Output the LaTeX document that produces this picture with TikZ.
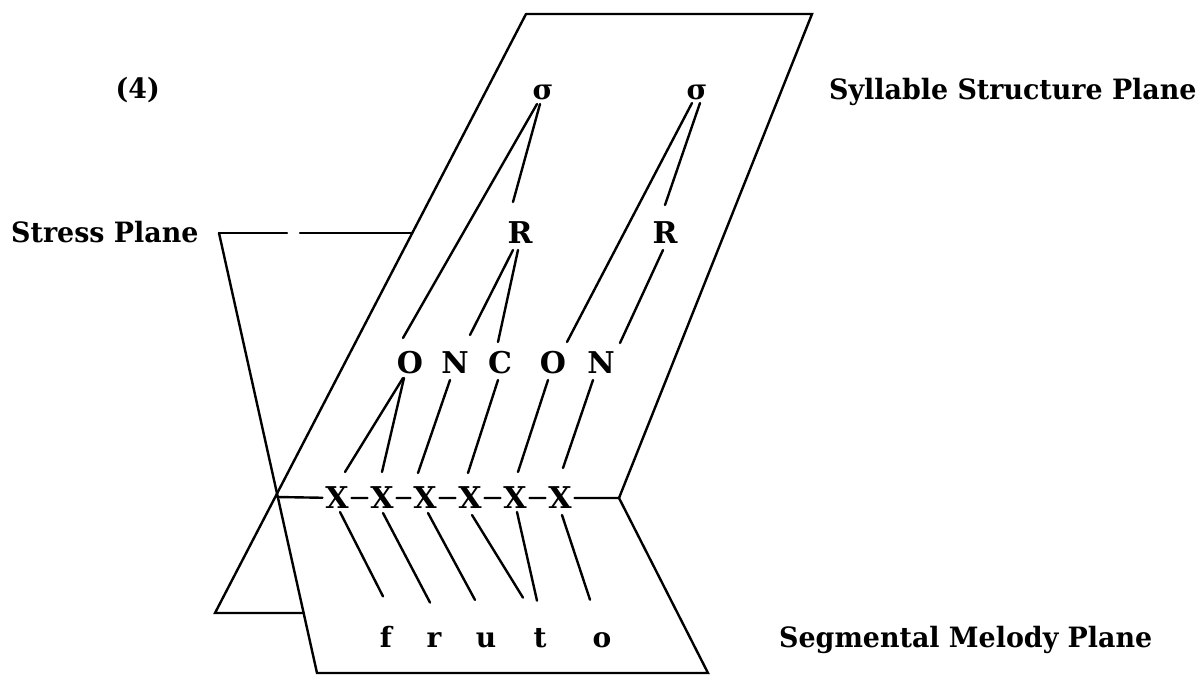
\documentclass[tikz,border=0pt]{standalone}
\usepackage{fontspec}
\setmainfont{DejaVu Serif}
\newfontfamily\lblfont{DejaVu Serif}[FakeStretch=0.96]
\usetikzlibrary{calc}
\begin{document}
\begin{tikzpicture}[x=1pt,y=-1pt,line width=2.4pt,line cap=round,
  capl/.style={inner sep=0pt,text height=21.9pt,text depth=0pt,font=\fontsize{30}{30}\selectfont\bfseries},
  xl/.style={capl,outer sep=3pt},
  lowl/.style={inner sep=0pt,anchor=base,font=\fontsize{28}{28}\selectfont\bfseries},
  sigl/.style={inner sep=0pt,text height=14.5pt,text depth=0pt,font=\fontsize{28}{28}\selectfont\bfseries},
  lab/.style={inner sep=0pt,anchor=base west,font=\lblfont\fontsize{28}{28}\selectfont\bfseries}]
\useasboundingbox (0,0) rectangle (1204,677);
% labels
\node[lab,anchor=base east] (num) at (161,98) {(4)};
\node[lab] (lsyl) at (828,99) {Syllable Structure Plane};
\node[lab] (lstr) at (10,242) {Stress Plane};
\node[lab] (lseg) at (778,647) {Segmental Melody Plane};
% plane outlines
\coordinate (sTL) at (526,14);
\coordinate (sTR) at (812,14);
\coordinate (cross) at (277,497);
\coordinate (rowR) at (619,498);
\coordinate (sBL) at (215,613);
\coordinate (stTL) at (219,233);
\coordinate (stTR) at (412,233);
\coordinate (g1) at (287,233);
\coordinate (g2) at (300,233);
\coordinate (stB) at (304,613);
\coordinate (segBL) at (317,673);
\coordinate (segBR) at (708,673);
\draw (sTL) -- (sTR) -- (rowR);
\draw (sTL) -- (sBL) -- (stB);
\draw (stTL) -- (g1);
\draw (g2) -- (stTR);
\draw (stTL) -- (segBL) -- (segBR) -- (rowR);
% syllable tier
\node[sigl] (s1) at (543,92) {σ};
\node[sigl] (s2) at (697,92) {σ};
\node[capl] (R1) at (520,233) {R};
\node[capl] (R2) at (665,233) {R};
\node[capl] (O1) at (410,363) {O};
\node[capl] (N1) at (455,363) {N};
\node[capl] (C) at (500,363) {C};
\node[capl] (O2) at (553,363) {O};
\node[capl] (N2) at (601,363) {N};
% skeleton
\node[xl] (X1) at (337,498) {X};
\node[xl] (X2) at (382,498) {X};
\node[xl] (X3) at (425,498) {X};
\node[xl] (X4) at (470,498) {X};
\node[xl] (X5) at (515,498) {X};
\node[xl] (X6) at (560,498) {X};
\draw (cross) -- (X1) -- (X2) -- (X3) -- (X4) -- (X5) -- (X6) -- (rowR);
% segments
\node[lowl] (f) at (386,647) {f};
\node[lowl] (r) at (434,647) {r};
\node[lowl] (u) at (486,647) {u};
\node[lowl] (t) at (540,647) {t};
\node[lowl] (o) at (602,647) {o};
% association lines
\draw ($(s1)+(-6,12)$) -- ($(O1)+(-7,-25)$);
\draw ($(s1)+(-3,12)$) -- ($(R1)+(-7,-31)$);
\draw ($(s2)+(-5,11)$) -- ($(O2)+(14,-21)$);
\draw ($(s2)+(3,11)$) -- ($(R2)+(0,-28)$);
\draw ($(R1)+(-7,17)$) -- ($(N1)+(15,-28)$);
\draw ($(R1)+(-2,17)$) -- ($(C)+(-2,-21)$);
\draw ($(R2)+(-2,17)$) -- ($(N2)+(19,-20)$);
\draw ($(O1)+(-7,15)$) -- ($(X1)+(8,-26)$);
\draw ($(O1)+(-6,15)$) -- ($(X2)+(0,-26)$);
\draw ($(N1)+(-5,17)$) -- ($(X3)+(-7,-25)$);
\draw ($(C)+(-2,17)$) -- ($(X4)+(-2,-25)$);
\draw ($(O2)+(-5,17)$) -- ($(X5)+(3,-26)$);
\draw ($(N2)+(-8,17)$) -- ($(X6)+(3,-30)$);
\draw ($(X1)+(3,14)$) -- ($(f)+(-3,-40)$);
\draw ($(X2)+(1,15)$) -- ($(r)+(-4,-37)$);
\draw ($(X3)+(3,15)$) -- ($(u)+(-11,-40)$);
\draw ($(X4)+(2,17)$) -- ($(t)+(-17,-40)$);
\draw ($(X5)+(2,14)$) -- ($(t)+(-3,-37)$);
\draw ($(X6)+(2,17)$) -- ($(o)+(-12,-40)$);
\end{tikzpicture}
\end{document}
